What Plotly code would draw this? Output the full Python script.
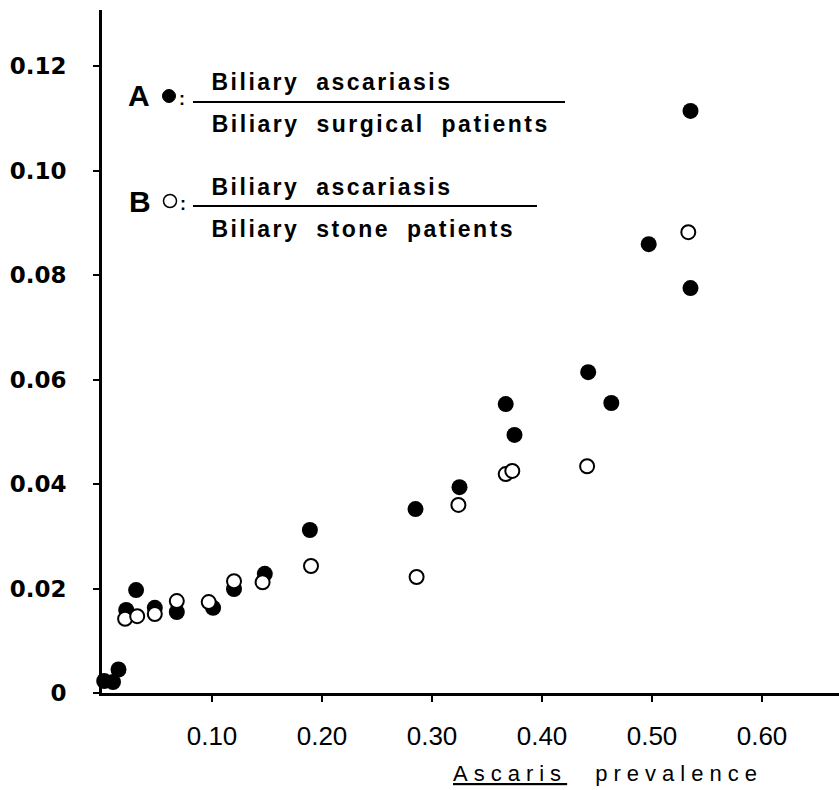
import plotly.graph_objects as go

# ---------------- data ----------------
# A (filled): Biliary ascariasis / Biliary surgical patients
a_prevalence = [0.002, 0.010, 0.015, 0.022, 0.031, 0.048, 0.068, 0.101, 0.120, 0.148,
                0.189, 0.285, 0.325, 0.367, 0.375, 0.442, 0.463, 0.497, 0.535, 0.535]
a_ratio = [0.0023, 0.0021, 0.0045, 0.0159, 0.0197, 0.0163, 0.0155, 0.0163, 0.0199, 0.0228,
           0.0312, 0.0352, 0.0394, 0.0553, 0.0494, 0.0614, 0.0555, 0.0859, 0.1114, 0.0775]

# B (open): Biliary ascariasis / Biliary stone patients
b_prevalence = [0.021, 0.032, 0.048, 0.068, 0.097, 0.120, 0.146, 0.190, 0.286, 0.324,
                0.367, 0.373, 0.441, 0.533]
b_ratio = [0.0142, 0.0147, 0.0151, 0.0176, 0.0174, 0.0214, 0.0212, 0.0243, 0.0222, 0.0360,
           0.0419, 0.0425, 0.0434, 0.0882]

x_tickvals = [0.10, 0.20, 0.30, 0.40, 0.50, 0.60]
x_ticktext = ["0.10", "0.20", "0.30", "0.40", "0.50", "0.60"]
y_tickvals = [0.0, 0.02, 0.04, 0.06, 0.08, 0.10, 0.12]
y_ticktext = ["0", "0.02", "0.04", "0.06", "0.08", "0.10", "0.12"]

legend_a_num = "Biliary ascariasis"
legend_a_den = "Biliary surgical patients"
legend_b_num = "Biliary ascariasis"
legend_b_den = "Biliary stone patients"
x_title = "<u>Ascaris</u> prevalence"

# ---------------- layout geometry ----------------
W, H = 839, 790
ML, MR, MT, MB = 102, 0, 10, 97
PW, PH = W - ML - MR, H - MT - MB


def px(x):
    return (x - ML) / PW


def py(y):
    return (H - MB - y) / PH


fig = go.Figure()

fig.add_trace(go.Scatter(
    x=a_prevalence, y=a_ratio, mode="markers", name="A",
    marker=dict(symbol="circle", size=16, color="black", line=dict(width=0)),
    cliponaxis=False, showlegend=False))

fig.add_trace(go.Scatter(
    x=b_prevalence, y=b_ratio, mode="markers", name="B",
    marker=dict(symbol="circle", size=14, color="white", line=dict(width=2, color="black")),
    cliponaxis=False, showlegend=False))

label_font = dict(family="Liberation Sans, Arial, sans-serif", size=23, color="black", weight="bold")
big_font = dict(family="Liberation Sans, Arial", size=30, color="black", weight="bold")
colon_font = dict(family="Liberation Sans, Arial", size=18, color="black", weight="bold")

annotations = [
    dict(text="A", x=px(139), y=py(96), font=big_font),
    dict(text="B", x=px(140), y=py(201), font=big_font),
    dict(text=":", x=px(182), y=py(99), font=colon_font),
    dict(text=":", x=px(183), y=py(204), font=colon_font),
    dict(text=legend_a_num, x=px(332), y=py(82), font=label_font),
    dict(text=legend_a_den, x=px(380), y=py(124), font=label_font),
    dict(text=legend_b_num, x=px(332), y=py(187), font=label_font),
    dict(text=legend_b_den, x=px(363), y=py(229), font=label_font),
    dict(text=x_title, x=px(608), y=py(773),
         font=dict(family="Liberation Sans, Arial", size=22, color="black")),
]
for a in annotations:
    a.update(xref="paper", yref="paper", showarrow=False, xanchor="center", yanchor="middle")

shapes = [
    dict(type="line", xref="paper", yref="paper", x0=px(193), x1=px(565), y0=py(102), y1=py(102),
         line=dict(color="black", width=2)),
    dict(type="line", xref="paper", yref="paper", x0=px(193), x1=px(537), y0=py(206), y1=py(206),
         line=dict(color="black", width=2)),
    dict(type="circle", xref="paper", yref="paper", xsizemode="pixel", ysizemode="pixel",
         xanchor=px(169), yanchor=py(96), x0=-6.5, x1=6.5, y0=-6.5, y1=6.5,
         fillcolor="black", line=dict(color="black", width=1)),
    dict(type="circle", xref="paper", yref="paper", xsizemode="pixel", ysizemode="pixel",
         xanchor=px(170), yanchor=py(201), x0=-6.5, x1=6.5, y0=-6.5, y1=6.5,
         fillcolor="white", line=dict(color="black", width=1.5)),
]

fig.update_layout(
    width=W, height=H,
    margin=dict(l=ML, r=MR, t=MT, b=MB, pad=0),
    paper_bgcolor="white", plot_bgcolor="white",
    annotations=annotations, shapes=shapes,
    xaxis=dict(range=[0, PW / 1100], tickvals=x_tickvals, ticktext=x_ticktext,
               showgrid=False, zeroline=False, showline=True, linecolor="black", linewidth=3,
               ticks="outside", ticklen=6, tickwidth=2, tickcolor="black",
               ticklabelstandoff=12,
               tickfont=dict(family="Liberation Sans Narrow, Liberation Sans, Arial", size=26, color="black")),
    yaxis=dict(range=[0, PH / 5225], tickvals=y_tickvals, ticktext=y_ticktext,
               showgrid=False, zeroline=False, showline=True, linecolor="black", linewidth=3,
               ticks="outside", ticklen=6, tickwidth=2, tickcolor="black",
               ticklabelstandoff=22,
               tickfont=dict(family="DejaVu Sans, sans-serif", size=23, color="black", weight="bold")),
)

post = """
document.body.style.margin = '0';
document.body.style.overflow = 'hidden';
var gd = document.getElementById('{plot_id}');
function applySpacing(){
  var specs = {
    'Biliary ascariasis': ['2.5px', '8px'],
    'Biliary surgical patients': ['2.5px', '8px'],
    'Biliary stone patients': ['2.5px', '8px'],
    'Ascaris prevalence': ['6px', '16px']
  };
  gd.querySelectorAll('text.annotation-text').forEach(function(t){
    var s = specs[t.textContent];
    if (s) { t.style.letterSpacing = s[0]; t.style.wordSpacing = s[1]; }
  });
}
applySpacing();
gd.on('plotly_afterplot', applySpacing);
"""

fig.write_html("out.html", post_script=post, config={"displayModeBar": False, "staticPlot": True})
